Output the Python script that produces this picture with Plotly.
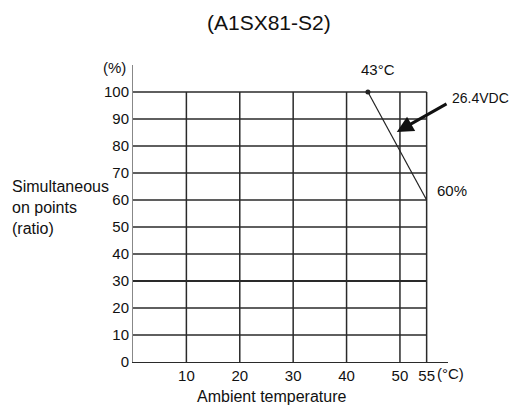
import plotly.graph_objects as go

# Data
x_ticks = [10, 20, 30, 40, 50, 55]
x_tick_labels = ["10", "20", "30", "40", "50", "55"]
y_ticks = [0, 10, 20, 30, 40, 50, 60, 70, 80, 90, 100]
derate_temp = [44, 55]
derate_ratio = [100, 60]

FONT = "Liberation Sans, Arial, sans-serif"
GRID = "#2a2a2a"
TXT = "#111"

# figure geometry (page has an 8px body margin)
W, H = 512, 397
L, R, T, B = 125, 72, 57, 43
PW, PH = W - L - R, H - T - B


def px(fx):
    return (fx - L) / PW


def py(fy):
    return (H - B - fy) / PH


fig = go.Figure()

shapes = []
for yv in y_ticks[1:]:
    shapes.append(dict(type="line", x0=0, x1=55, y0=yv, y1=yv, xref="x", yref="y",
                       line=dict(color=GRID, width=2 if yv == 30 else 1.4), layer="below"))
for xv in x_ticks:
    shapes.append(dict(type="line", x0=xv, x1=xv, y0=0, y1=100, xref="x", yref="y",
                       line=dict(color=GRID, width=1.5), layer="below"))

fig.add_trace(go.Scatter(x=derate_temp, y=derate_ratio, mode="lines",
                         line=dict(color="#222", width=1.2), showlegend=False, hoverinfo="skip"))
fig.add_trace(go.Scatter(x=[derate_temp[0]], y=[derate_ratio[0]], mode="markers",
                         marker=dict(color="#222", size=5), showlegend=False, hoverinfo="skip"))


def txt(text, x, y, size=15, xanchor="center", xref="paper", yref="paper"):
    return dict(text=text, x=x, y=y, xref=xref, yref=yref, showarrow=False,
                font=dict(size=size, family=FONT, color=TXT), xanchor=xanchor, yanchor="middle")


annotations = [
    txt("(A1SX81-S2)", px(261), py(14), size=21),
    txt("(%)", px(120), py(60), size=15, xanchor="right"),
    txt("43°C", 45.9, 108.2, size=15, xref="x", yref="y"),
    txt("60%", 56.6, 63.7, size=15, xanchor="left", xref="x", yref="y"),
    txt("26.4VDC", px(442), py(90), size=14, xanchor="left"),
    dict(x=49.4, y=85.2, ax=59, ay=95.9, xref="x", yref="y", axref="x", ayref="y",
         showarrow=True, arrowhead=2, arrowsize=1.1, arrowwidth=3, arrowcolor="#111", text=""),
    txt("(°C)", px(427), py(365), size=15, xanchor="left"),
    txt("Ambient temperature", px(264), py(388), size=16),
    txt("Simultaneous", px(2), py(178), size=16, xanchor="left"),
    txt("on points", px(2), py(199), size=16, xanchor="left"),
    txt("(ratio)", px(2), py(221), size=16, xanchor="left"),
]

fig.update_layout(
    width=W, height=H,
    margin=dict(l=L, r=R, t=T, b=B),
    paper_bgcolor="white", plot_bgcolor="white",
    shapes=shapes, annotations=annotations,
    xaxis=dict(range=[0, 59], showgrid=False, zeroline=False, showline=True,
               linecolor=GRID, linewidth=1.4, tickvals=x_ticks, ticktext=x_tick_labels,
               ticks="", tickfont=dict(size=15, family=FONT, color=TXT)),
    yaxis=dict(range=[0, 110], showgrid=False, zeroline=False, showline=True,
               linecolor="#888", linewidth=1, tickvals=y_ticks, ticks="",
               tickfont=dict(size=15, family=FONT, color=TXT)),
    font=dict(family=FONT),
)

fig.write_html("out.html")
